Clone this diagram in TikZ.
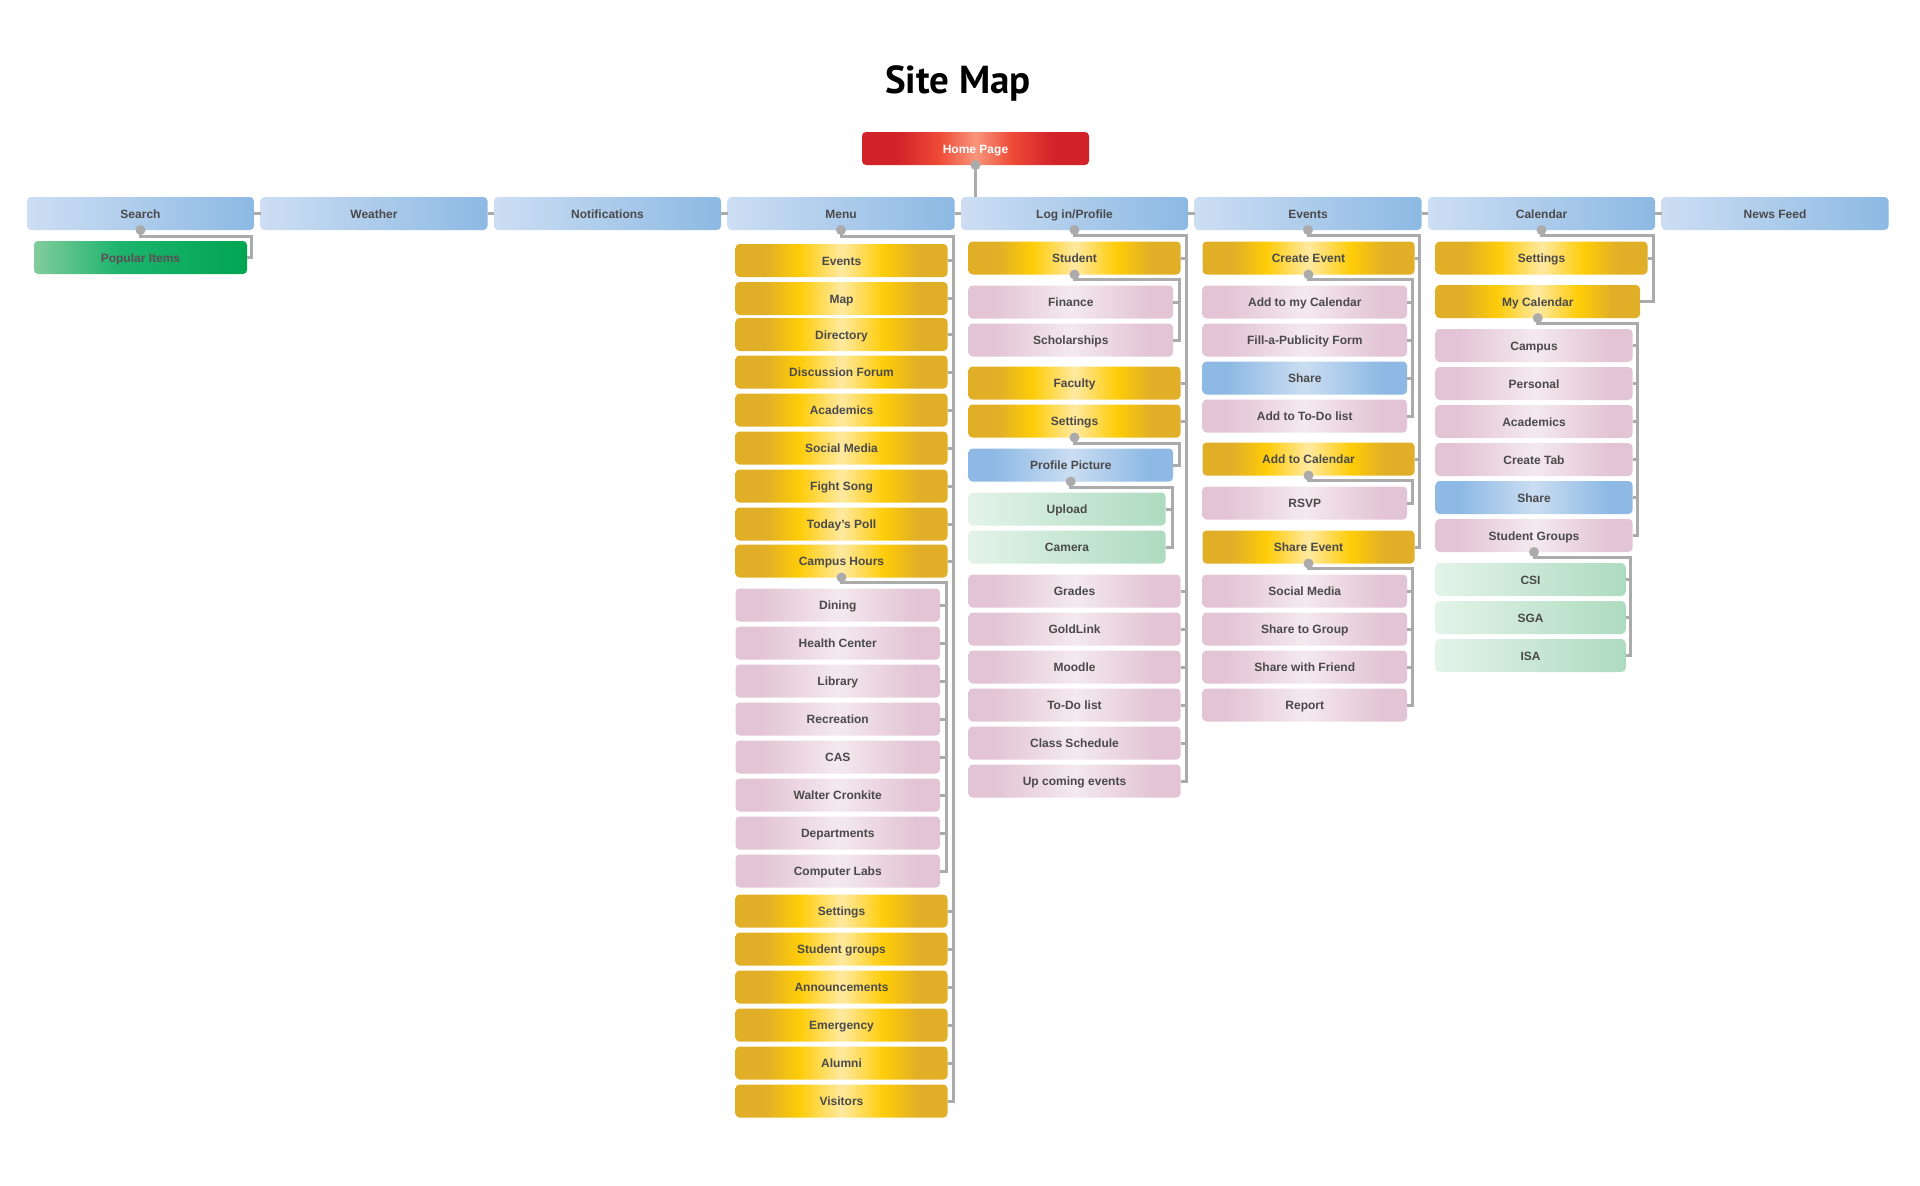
\documentclass[tikz,border=0pt]{standalone}
\usepackage{fontspec}
\setmainfont{Liberation Sans}
\newfontfamily\titlefont{PT Sans}
\usetikzlibrary{positioning}

\definecolor{topL}{HTML}{CDDEF3}
\definecolor{topR}{HTML}{8CB9E3}
\definecolor{gldE}{HTML}{E0AF27}
\definecolor{gldY}{HTML}{FFCC08}
\definecolor{gldC}{HTML}{FFE9A0}
\definecolor{pnkE}{HTML}{E3C4D4}
\definecolor{pnkC}{HTML}{F4E9EF}
\definecolor{bluE}{HTML}{8DB9E4}
\definecolor{bluC}{HTML}{CADDF2}
\definecolor{mintL}{HTML}{E3F3E9}
\definecolor{mintR}{HTML}{AEDBC0}
\definecolor{grnL}{HTML}{82CC9C}
\definecolor{grnM}{HTML}{1DB46D}
\definecolor{grnR}{HTML}{00A551}
\definecolor{redE}{HTML}{D2232A}
\definecolor{redM}{HTML}{EE4A36}
\definecolor{redC}{HTML}{F8957C}
\definecolor{linkc}{HTML}{ABABAB}
\definecolor{txt}{HTML}{4A4A4A}
\definecolor{txtp}{HTML}{5E4A54}

\pgfdeclarehorizontalshading{goldsh}{100bp}{color(0bp)=(gldE); color(32bp)=(gldE); color(40bp)=(gldY); color(50bp)=(gldC); color(60bp)=(gldY); color(68bp)=(gldE); color(100bp)=(gldE)}
\pgfdeclarehorizontalshading{pinksh}{100bp}{color(0bp)=(pnkE); color(31bp)=(pnkE); color(50bp)=(pnkC); color(69bp)=(pnkE); color(100bp)=(pnkE)}
\pgfdeclarehorizontalshading{bluesh}{100bp}{color(0bp)=(bluE); color(31bp)=(bluE); color(50bp)=(bluC); color(69bp)=(bluE); color(100bp)=(bluE)}
\pgfdeclarehorizontalshading{redsh}{100bp}{color(0bp)=(redE); color(33bp)=(redE); color(42bp)=(redM); color(50bp)=(redC); color(58bp)=(redM); color(67bp)=(redE); color(100bp)=(redE)}
\pgfdeclarehorizontalshading{greensh}{100bp}{color(0bp)=(grnL); color(25bp)=(grnL); color(45bp)=(grnM); color(75bp)=(grnR); color(100bp)=(grnR)}

\begin{document}
\begin{tikzpicture}[
        x=1pt, y=1pt,
        box/.style={rectangle, rounded corners=4pt, minimum height=33pt, inner sep=0pt, outer sep=0pt,
            text height=9.5pt, text depth=0pt,
            font=\fontsize{12}{14}\selectfont\bfseries, text=txt},
        headbox/.style={box, minimum width=227pt, left color=topL, right color=topR},
        homebox/.style={box, minimum width=227pt, shade, shading=redsh, text=white},
        goldbox/.style={box, shade, shading=goldsh},
        pinkbox/.style={box, shade, shading=pinksh},
        bluebox/.style={box, shade, shading=bluesh},
        mintbox/.style={box, left color=mintL, right color=mintR},
        greenbox/.style={box, shade, shading=greensh, text=txtp},
        w1/.style={minimum width=212pt},
        w2/.style={minimum width=204.5pt},
        w3/.style={minimum width=197pt},
        w4/.style={minimum width=190pt},
        kid/.style={anchor=north west},
        link/.style={draw=linkc, line width=3pt},
        knob/.style={fill=linkc}
    ]
    \useasboundingbox (0,0) rectangle (1920,-1186);

    \node[font={\titlefont\bfseries\fontsize{39}{44}\selectfont}, anchor=base] (title) at (958,-93.5) {Site Map};
    \node[homebox] (home) at (975.5,-148.5) {Home Page};

    % top row
    \node[headbox] (search) at (140.5,-213.5) {Search};
    \node[headbox, right=6.5pt of search] (weather) {Weather};
    \node[headbox, right=6.5pt of weather] (notif) {Notifications};
    \node[headbox, right=6.5pt of notif] (menu) {Menu};
    \node[headbox, right=6.5pt of menu] (login) {Log in/Profile};
    \node[headbox, right=6.5pt of login] (events) {Events};
    \node[headbox, right=6.5pt of events] (calendar) {Calendar};
    \node[headbox, right=6.5pt of calendar] (news) {News Feed};

    % search
    \node[greenbox, minimum width=213pt, kid] (popular) at ([shift={(7,-11)}]search.south west) {Popular Items};

    % menu
    \node[goldbox, w1, kid] (mEvents) at ([shift={(8,-14)}]menu.south west) {Events};
    \node[goldbox, w1, kid] (mMap) at ([yshift=-5pt]mEvents.south west) {Map};
    \node[goldbox, w1, kid] (mDir) at ([yshift=-3pt]mMap.south west) {Directory};
    \node[goldbox, w1, kid] (mForum) at ([yshift=-4.5pt]mDir.south west) {Discussion Forum};
    \node[goldbox, w1, kid] (mAcad) at ([yshift=-5pt]mForum.south west) {Academics};
    \node[goldbox, w1, kid] (mSocial) at ([yshift=-5pt]mAcad.south west) {Social Media};
    \node[goldbox, w1, kid] (mFight) at ([yshift=-5pt]mSocial.south west) {Fight Song};
    \node[goldbox, w1, kid] (mPoll) at ([yshift=-5pt]mFight.south west) {Today's Poll};
    \node[goldbox, w1, kid] (mHours) at ([yshift=-4pt]mPoll.south west) {Campus Hours};
    \node[pinkbox, w2, kid] (hDining) at ([yshift=-11pt]mHours.south west) {Dining};
    \node[pinkbox, w2, kid] (hHealth) at ([yshift=-5pt]hDining.south west) {Health Center};
    \node[pinkbox, w2, kid] (hLibrary) at ([yshift=-5pt]hHealth.south west) {Library};
    \node[pinkbox, w2, kid] (hRec) at ([yshift=-5pt]hLibrary.south west) {Recreation};
    \node[pinkbox, w2, kid] (hCAS) at ([yshift=-5pt]hRec.south west) {CAS};
    \node[pinkbox, w2, kid] (hWalter) at ([yshift=-5pt]hCAS.south west) {Walter Cronkite};
    \node[pinkbox, w2, kid] (hDept) at ([yshift=-5pt]hWalter.south west) {Departments};
    \node[pinkbox, w2, kid] (hLabs) at ([yshift=-5pt]hDept.south west) {Computer Labs};
    \node[goldbox, w1, kid] (mSettings) at ([yshift=-7pt]hLabs.south west) {Settings};
    \node[goldbox, w1, kid] (mGroups) at ([yshift=-5pt]mSettings.south west) {Student groups};
    \node[goldbox, w1, kid] (mAnnounce) at ([yshift=-5pt]mGroups.south west) {Announcements};
    \node[goldbox, w1, kid] (mEmerg) at ([yshift=-5pt]mAnnounce.south west) {Emergency};
    \node[goldbox, w1, kid] (mAlumni) at ([yshift=-5pt]mEmerg.south west) {Alumni};
    \node[goldbox, w1, kid] (mVisitors) at ([yshift=-5pt]mAlumni.south west) {Visitors};

    % log in/profile
    \node[goldbox, w1, kid] (lStudent) at ([shift={(7.5,-11.5)}]login.south west) {Student};
    \node[pinkbox, w2, kid] (sFinance) at ([yshift=-11pt]lStudent.south west) {Finance};
    \node[pinkbox, w2, kid] (sScholar) at ([yshift=-5pt]sFinance.south west) {Scholarships};
    \node[goldbox, w1, kid] (lFaculty) at ([yshift=-10pt]sScholar.south west) {Faculty};
    \node[goldbox, w1, kid] (lSettings) at ([yshift=-5pt]lFaculty.south west) {Settings};
    \node[bluebox, w2, kid] (pPicture) at ([yshift=-11pt]lSettings.south west) {Profile Picture};
    \node[mintbox, w3, kid] (uUpload) at ([yshift=-11pt]pPicture.south west) {Upload};
    \node[mintbox, w3, kid] (uCamera) at ([yshift=-5pt]uUpload.south west) {Camera};
    \node[pinkbox, w1, kid] (lGrades) at ([yshift=-11pt]uCamera.south west) {Grades};
    \node[pinkbox, w1, kid] (lGold) at ([yshift=-5pt]lGrades.south west) {GoldLink};
    \node[pinkbox, w1, kid] (lMoodle) at ([yshift=-5pt]lGold.south west) {Moodle};
    \node[pinkbox, w1, kid] (lTodo) at ([yshift=-5pt]lMoodle.south west) {To-Do list};
    \node[pinkbox, w1, kid] (lSched) at ([yshift=-5pt]lTodo.south west) {Class Schedule};
    \node[pinkbox, w1, kid] (lUpcoming) at ([yshift=-5pt]lSched.south west) {Up coming events};

    % events
    \node[goldbox, w1, kid] (eCreate) at ([shift={(8,-11.5)}]events.south west) {Create Event};
    \node[pinkbox, w2, kid] (cAddCal) at ([yshift=-11pt]eCreate.south west) {Add to my Calendar};
    \node[pinkbox, w2, kid] (cForm) at ([yshift=-5pt]cAddCal.south west) {Fill-a-Publicity Form};
    \node[bluebox, w2, kid] (cShare) at ([yshift=-5pt]cForm.south west) {Share};
    \node[pinkbox, w2, kid] (cTodo) at ([yshift=-5pt]cShare.south west) {Add to To-Do list};
    \node[goldbox, w1, kid] (eAddCal) at ([yshift=-10pt]cTodo.south west) {Add to Calendar};
    \node[pinkbox, w2, kid] (aRSVP) at ([yshift=-11pt]eAddCal.south west) {RSVP};
    \node[goldbox, w1, kid] (eShare) at ([yshift=-11pt]aRSVP.south west) {Share Event};
    \node[pinkbox, w2, kid] (sSocial) at ([yshift=-11pt]eShare.south west) {Social Media};
    \node[pinkbox, w2, kid] (sGroup) at ([yshift=-5pt]sSocial.south west) {Share to Group};
    \node[pinkbox, w2, kid] (sFriend) at ([yshift=-5pt]sGroup.south west) {Share with Friend};
    \node[pinkbox, w2, kid] (sReport) at ([yshift=-5pt]sFriend.south west) {Report};

    % calendar
    \node[goldbox, w1, kid] (kSettings) at ([shift={(7.5,-11.5)}]calendar.south west) {Settings};
    \node[goldbox, w2, kid] (kMyCal) at ([yshift=-10.5pt]kSettings.south west) {My Calendar};
    \node[pinkbox, w3, kid] (mcCampus) at ([yshift=-11pt]kMyCal.south west) {Campus};
    \node[pinkbox, w3, kid] (mcPersonal) at ([yshift=-5pt]mcCampus.south west) {Personal};
    \node[pinkbox, w3, kid] (mcAcad) at ([yshift=-5pt]mcPersonal.south west) {Academics};
    \node[pinkbox, w3, kid] (mcTab) at ([yshift=-5pt]mcAcad.south west) {Create Tab};
    \node[bluebox, w3, kid] (mcShare) at ([yshift=-5pt]mcTab.south west) {Share};
    \node[pinkbox, w3, kid] (mcGroups) at ([yshift=-5pt]mcShare.south west) {Student Groups};
    \node[mintbox, w4, kid] (gCSI) at ([yshift=-11pt]mcGroups.south west) {CSI};
    \node[mintbox, w4, kid] (gSGA) at ([yshift=-5pt]gCSI.south west) {SGA};
    \node[mintbox, w4, kid] (gISA) at ([yshift=-5pt]gSGA.south west) {ISA};

    % trunks
    \coordinate (searchT) at ([xshift=-3pt]search.east);
    \coordinate (menuT) at ([xshift=-1.5pt]menu.east);
    \coordinate (hoursT) at ([xshift=-1.5pt]mHours.east);
    \coordinate (loginT) at ([xshift=-2pt]login.east);
    \coordinate (studentT) at ([xshift=-1.5pt]lStudent.east);
    \coordinate (setT) at ([xshift=-1.5pt]lSettings.east);
    \coordinate (picT) at ([xshift=-1pt]pPicture.east);
    \coordinate (eventsT) at ([xshift=-2pt]events.east);
    \coordinate (createT) at ([xshift=-2pt]eCreate.east);
    \coordinate (addT) at ([xshift=-2pt]eAddCal.east);
    \coordinate (shareT) at ([xshift=-2pt]eShare.east);
    \coordinate (calT) at ([xshift=-2pt]calendar.east);
    \coordinate (mycalT) at ([xshift=-2.5pt]kMyCal.east);
    \coordinate (groupsT) at ([xshift=-2pt]mcGroups.east);

    % connectors
    \foreach \a/\b in {search/weather, weather/notif, notif/menu, menu/login,
                       login/events, events/calendar, calendar/news}
        \draw[link] (\a) -- (\b);
    \draw[link] (home.south) -- (home.south |- login.north);

    \draw[link] (search.south) -- ++(0,-6) -| (searchT |- popular.east) -- (popular.east);
    \draw[link] (menu.south) -- ++(0,-6.5) -| (menuT |- mVisitors.east) -- (mVisitors.east);
    \draw[link] (mHours.south) -- ++(0,-5) -| (hoursT |- hLabs.east) -- (hLabs.east);
    \draw[link] (login.south) -- ++(0,-5) -| (loginT |- lUpcoming.east) -- (lUpcoming.east);
    \draw[link] (lStudent.south) -- ++(0,-5) -| (studentT |- sScholar.east) -- (sScholar.east);
    \draw[link] (lSettings.south) -- ++(0,-5.5) -| (setT |- pPicture.east) -- (pPicture.east);
    \draw[link] (pPicture.south) -- ++(0,-5.5) -| (picT |- uCamera.east) -- (uCamera.east);
    \draw[link] (events.south) -- ++(0,-5) -| (eventsT |- eShare.east) -- (eShare.east);
    \draw[link] (eCreate.south) -- ++(0,-5) -| (createT |- cTodo.east) -- (cTodo.east);
    \draw[link] (eAddCal.south) -- ++(0,-5) -| (addT |- aRSVP.east) -- (aRSVP.east);
    \draw[link] (eShare.south) -- ++(0,-5) -| (shareT |- sReport.east) -- (sReport.east);
    \draw[link] (calendar.south) -- ++(0,-5) -| (calT |- kMyCal.east) -- (kMyCal.east);
    \draw[link] (kMyCal.south) -- ++(0,-5) -| (mycalT |- mcGroups.east) -- (mcGroups.east);
    \draw[link] (mcGroups.south) -- ++(0,-5) -| (groupsT |- gISA.east) -- (gISA.east);

    \foreach \k in {mEvents,mMap,mDir,mForum,mAcad,mSocial,mFight,mPoll,mHours,
                    mSettings,mGroups,mAnnounce,mEmerg,mAlumni}
        \draw[link] (\k.east) -- (\k.east -| menuT);
    \foreach \k in {hDining,hHealth,hLibrary,hRec,hCAS,hWalter,hDept}
        \draw[link] (\k.east) -- (\k.east -| hoursT);
    \foreach \k in {lStudent,lFaculty,lSettings,lGrades,lGold,lMoodle,lTodo,lSched}
        \draw[link] (\k.east) -- (\k.east -| loginT);
    \draw[link] (sFinance.east) -- (sFinance.east -| studentT);
    \draw[link] (uUpload.east) -- (uUpload.east -| picT);
    \foreach \k in {eCreate,eAddCal}
        \draw[link] (\k.east) -- (\k.east -| eventsT);
    \foreach \k in {cAddCal,cForm,cShare}
        \draw[link] (\k.east) -- (\k.east -| createT);
    \foreach \k in {sSocial,sGroup,sFriend}
        \draw[link] (\k.east) -- (\k.east -| shareT);
    \draw[link] (kSettings.east) -- (kSettings.east -| calT);
    \foreach \k in {mcCampus,mcPersonal,mcAcad,mcTab,mcShare}
        \draw[link] (\k.east) -- (\k.east -| mycalT);
    \foreach \k in {gCSI,gSGA}
        \draw[link] (\k.east) -- (\k.east -| groupsT);

    % knobs
    \foreach \p in {home,search,menu,mHours,login,lStudent,lSettings,pPicture,
                    events,eCreate,eAddCal,eShare,calendar,kMyCal,mcGroups}
        \fill[knob] (\p.south) circle (5pt);
\end{tikzpicture}
\end{document}
